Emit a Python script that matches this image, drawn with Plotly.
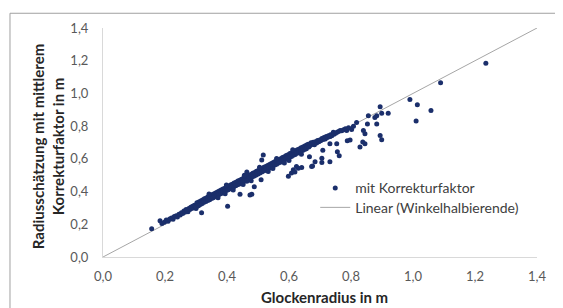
import plotly.graph_objects as go

# Reference line (Winkelhalbierende)
line_x = [0.0, 1.4]
line_y = [0.0, 1.4]

# Axis ticks
tick_vals = [0.0, 0.2, 0.4, 0.6, 0.8, 1.0, 1.2, 1.4]

# Points (Glockenradius, Radiusschaetzung)
low_tail = [
    (0.157, 0.172), (0.184, 0.222), (0.190, 0.205), (0.198, 0.212), (0.204, 0.226),
    (0.210, 0.218), (0.215, 0.232), (0.221, 0.238), (0.226, 0.231), (0.230, 0.247),
    (0.236, 0.252), (0.240, 0.244), (0.245, 0.262), (0.249, 0.257), (0.253, 0.270),
    (0.257, 0.266), (0.261, 0.281), (0.264, 0.273), (0.268, 0.290), (0.271, 0.283),
    (0.274, 0.276), (0.277, 0.297), (0.280, 0.290), (0.283, 0.304), (0.286, 0.296),
    (0.289, 0.310), (0.292, 0.301), (0.295, 0.316), (0.298, 0.308), (0.300, 0.296),
]

core_band = [
    (0.303, 0.331), (0.305, 0.317), (0.301, 0.306),
    (0.309, 0.337), (0.311, 0.326), (0.308, 0.313),
    (0.315, 0.343), (0.317, 0.332), (0.314, 0.321),
    (0.321, 0.349), (0.323, 0.340), (0.320, 0.327),
    (0.327, 0.356), (0.329, 0.345), (0.326, 0.334),
    (0.333, 0.361), (0.335, 0.351), (0.332, 0.339),
    (0.339, 0.368), (0.341, 0.356), (0.338, 0.346),
    (0.345, 0.373), (0.347, 0.364), (0.344, 0.350),
    (0.351, 0.380), (0.353, 0.369), (0.350, 0.358),
    (0.357, 0.385), (0.359, 0.376), (0.356, 0.362),
    (0.363, 0.392), (0.365, 0.381), (0.362, 0.370),
    (0.369, 0.397), (0.371, 0.388), (0.368, 0.375),
    (0.375, 0.404), (0.377, 0.393), (0.374, 0.382),
    (0.381, 0.409), (0.383, 0.400), (0.380, 0.387),
    (0.387, 0.416), (0.389, 0.405), (0.386, 0.394),
    (0.393, 0.421), (0.395, 0.412), (0.392, 0.399),
    (0.399, 0.428), (0.401, 0.417), (0.398, 0.406),
    (0.405, 0.433), (0.407, 0.424), (0.404, 0.411),
    (0.411, 0.440), (0.413, 0.429), (0.410, 0.418),
    (0.417, 0.445), (0.419, 0.436), (0.416, 0.423),
    (0.423, 0.452), (0.425, 0.441), (0.422, 0.430),
    (0.429, 0.457), (0.431, 0.448), (0.428, 0.435),
    (0.435, 0.464), (0.437, 0.453), (0.434, 0.442),
    (0.441, 0.469), (0.443, 0.460), (0.440, 0.447),
    (0.447, 0.476), (0.449, 0.465), (0.446, 0.454),
    (0.453, 0.481), (0.455, 0.472), (0.452, 0.459),
    (0.459, 0.488), (0.461, 0.477), (0.458, 0.466),
    (0.465, 0.493), (0.467, 0.484), (0.464, 0.471),
    (0.471, 0.500), (0.473, 0.489), (0.470, 0.478),
    (0.477, 0.505), (0.479, 0.496), (0.476, 0.483),
    (0.483, 0.512), (0.485, 0.501), (0.482, 0.490),
    (0.489, 0.517), (0.491, 0.508), (0.488, 0.495),
    (0.495, 0.524), (0.497, 0.513), (0.494, 0.502),
    (0.501, 0.529), (0.503, 0.520), (0.500, 0.507),
    (0.507, 0.536), (0.509, 0.525), (0.506, 0.514),
    (0.513, 0.541), (0.515, 0.532), (0.512, 0.519),
    (0.519, 0.548), (0.521, 0.537), (0.518, 0.526),
    (0.525, 0.553), (0.527, 0.544), (0.524, 0.531),
    (0.531, 0.560), (0.533, 0.549), (0.530, 0.538),
    (0.537, 0.565), (0.539, 0.556), (0.536, 0.543),
    (0.543, 0.572), (0.545, 0.561), (0.542, 0.550),
    (0.549, 0.577), (0.551, 0.568), (0.548, 0.555),
    (0.555, 0.584), (0.557, 0.573), (0.554, 0.562),
    (0.561, 0.589), (0.563, 0.580), (0.560, 0.567),
    (0.567, 0.596), (0.569, 0.585), (0.566, 0.574),
    (0.573, 0.601), (0.575, 0.592), (0.572, 0.579),
    (0.579, 0.608), (0.581, 0.597), (0.578, 0.586),
    (0.585, 0.613), (0.587, 0.604), (0.584, 0.591),
    (0.591, 0.620), (0.593, 0.609), (0.590, 0.598),
    (0.597, 0.625), (0.599, 0.616), (0.596, 0.603),
    (0.603, 0.632), (0.605, 0.621), (0.602, 0.610),
    (0.609, 0.637), (0.611, 0.628), (0.608, 0.615),
    (0.615, 0.644), (0.617, 0.633), (0.614, 0.622),
    (0.621, 0.649), (0.623, 0.640), (0.620, 0.627),
    (0.627, 0.656), (0.629, 0.645), (0.626, 0.634),
    (0.633, 0.661), (0.635, 0.652), (0.632, 0.639),
    (0.639, 0.668), (0.641, 0.657), (0.638, 0.646),
    (0.645, 0.673), (0.647, 0.664), (0.644, 0.651),
    (0.651, 0.679), (0.653, 0.668), (0.650, 0.657),
    (0.657, 0.684), (0.659, 0.675), (0.656, 0.662),
    (0.342, 0.385), (0.371, 0.362), (0.398, 0.440), (0.420, 0.410),
    (0.456, 0.500), (0.478, 0.466), (0.505, 0.548), (0.533, 0.522),
    (0.560, 0.602), (0.585, 0.575), (0.612, 0.655), (0.640, 0.628),
    (0.394, 0.386), (0.452, 0.443), (0.548, 0.541), (0.600, 0.590),
]

upper_band = [
    (0.662, 0.690), (0.664, 0.672), (0.668, 0.681), (0.671, 0.698),
    (0.675, 0.690), (0.678, 0.701), (0.682, 0.686), (0.685, 0.705),
    (0.689, 0.697), (0.692, 0.712), (0.696, 0.704), (0.699, 0.716),
    (0.702, 0.710), (0.706, 0.724), (0.710, 0.718), (0.713, 0.730),
    (0.717, 0.722), (0.720, 0.736), (0.724, 0.730), (0.727, 0.742),
    (0.731, 0.737), (0.734, 0.748), (0.738, 0.742), (0.743, 0.763),
    (0.745, 0.751), (0.750, 0.757), (0.755, 0.762), (0.760, 0.768),
    (0.765, 0.773), (0.770, 0.772), (0.776, 0.778), (0.782, 0.784),
    (0.786, 0.773), (0.792, 0.790), (0.802, 0.779), (0.808, 0.800),
    (0.818, 0.823),
]

outliers = [
    (0.318, 0.270), (0.402, 0.311), (0.442, 0.383), (0.474, 0.379),
    (0.480, 0.383), (0.488, 0.429), (0.510, 0.473), (0.464, 0.463),
    (0.464, 0.519), (0.512, 0.593), (0.517, 0.623),
    (0.598, 0.493), (0.608, 0.513), (0.614, 0.533), (0.619, 0.519),
    (0.624, 0.553), (0.630, 0.543), (0.641, 0.547),
    (0.666, 0.613), (0.673, 0.553), (0.676, 0.557), (0.684, 0.583),
    (0.706, 0.603), (0.706, 0.577), (0.709, 0.653),
    (0.732, 0.583), (0.732, 0.693), (0.732, 0.737),
    (0.754, 0.693), (0.756, 0.643), (0.762, 0.619),
    (0.788, 0.710), (0.797, 0.715),
    (0.829, 0.673), (0.838, 0.703), (0.845, 0.693),
    (0.840, 0.773), (0.845, 0.753),
    (0.894, 0.743), (0.899, 0.717),
    (0.853, 0.813), (0.883, 0.813),
    (0.856, 0.863), (0.877, 0.853), (0.883, 0.863),
    (0.894, 0.918), (0.899, 0.879), (0.920, 0.879),
    (0.990, 0.963), (1.014, 0.931), (1.058, 0.895), (1.010, 0.831),
    (1.089, 1.066), (1.235, 1.184),
]

all_points = low_tail + core_band + upper_band + outliers
glocken_x = [p[0] for p in all_points]
schaetz_y = [p[1] for p in all_points]

FONT = "Lato"
MARKER = "#1b2f6b"

fig = go.Figure()

fig.add_trace(go.Scatter(
    x=line_x, y=line_y, mode="lines",
    name="Linear (Winkelhalbierende)",
    line=dict(color="#a6a6a6", width=1),
    legend="legend2",
))

fig.add_trace(go.Scatter(
    x=glocken_x, y=schaetz_y, mode="markers",
    name="mit Korrekturfaktor",
    marker=dict(color=MARKER, size=5, line=dict(width=0)),
    legend="legend",
))

axis_common = dict(
    range=[0, 1.4],
    tickvals=tick_vals,
    tickformat=".1f",
    showgrid=False,
    zeroline=False,
    showline=True,
    linecolor="#d9d9d9",
    linewidth=1,
    ticks="",
    tickfont=dict(family=FONT, size=13, color="#595959"),
)

# page body has an 8px offset, so the figure is drawn 8px smaller
fig.update_layout(
    width=555, height=300,
    margin=dict(l=95, r=26, t=16, b=51),
    paper_bgcolor="white",
    plot_bgcolor="white",
    separators=",.",
    font=dict(family=FONT, color="#404040"),
    xaxis=dict(**axis_common, ticklabelstandoff=7),
    yaxis=dict(**axis_common, ticklabelstandoff=11),
    legend=dict(
        x=0.489, y=0.30, xanchor="left", yanchor="middle",
        bgcolor="rgba(0,0,0,0)",
        font=dict(family=FONT, size=14, color="#404040"),
        itemwidth=30,
    ),
    legend2=dict(
        x=0.489, y=0.215, xanchor="left", yanchor="middle",
        bgcolor="rgba(0,0,0,0)",
        font=dict(family=FONT, size=14, color="#404040"),
        itemwidth=30,
    ),
    showlegend=True,
    shapes=[dict(
        type="rect", xref="paper", yref="paper",
        x0=-0.2143, y0=-0.35, x1=1.08, y1=1.0644,
        line=dict(color="#a0a0a0", width=1),
        fillcolor="rgba(0,0,0,0)", layer="below",
    )],
    annotations=[
        dict(
            text="Radiusschätzung mit mittlerem<br>Korrekturfaktor in m",
            xref="paper", yref="paper", x=-0.126, y=0.481,
            textangle=-90, showarrow=False,
            xanchor="center", yanchor="middle",
            font=dict(family=FONT, size=15, color="#262626", weight="bold"),
        ),
        dict(
            text="Glockenradius in m",
            xref="paper", yref="paper", x=0.5115, y=-0.176,
            showarrow=False, xanchor="center", yanchor="middle",
            font=dict(family=FONT, size=15, color="#262626", weight="bold"),
        ),
    ],
)

fig.write_html("out.html")
